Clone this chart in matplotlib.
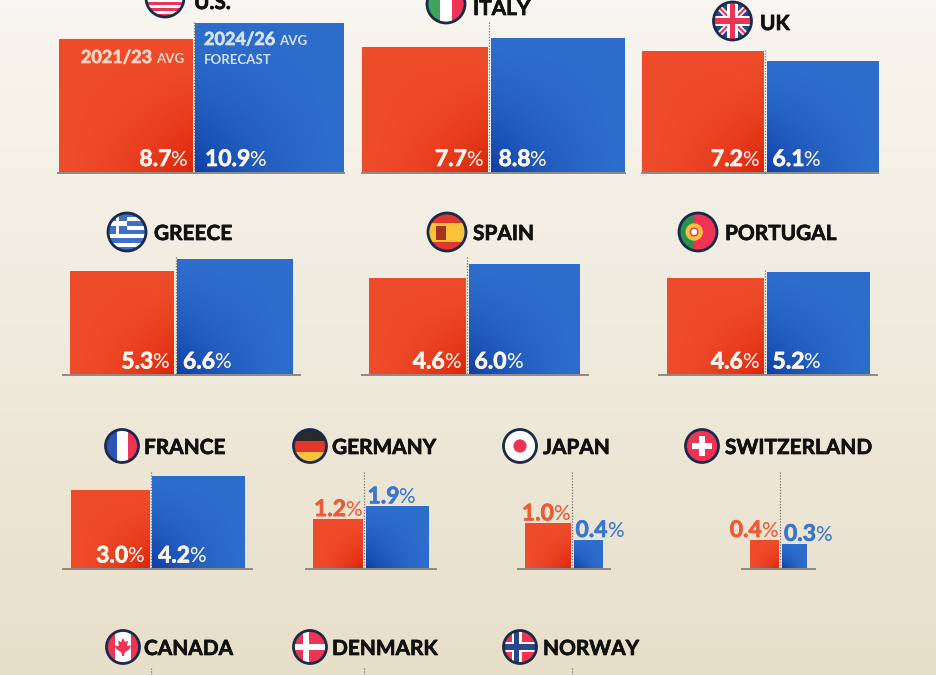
import numpy as np
import matplotlib
matplotlib.use("Agg")
import matplotlib.pyplot as plt
import matplotlib.patheffects as pe
from matplotlib.patches import Circle, Rectangle, Polygon

plt.rcParams['font.family'] = ['Lato', 'DejaVu Sans']

# values
countries = ["U.S.", "ITALY", "UK", "GREECE", "SPAIN", "PORTUGAL",
             "FRANCE", "GERMANY", "JAPAN", "SWITZERLAND"]
avg_2021_23 = [8.7, 7.7, 7.2, 5.3, 4.6, 4.6, 3.0, 1.2, 1.0, 0.4]
avg_2024_26 = [10.9, 8.8, 6.1, 6.6, 6.0, 5.2, 4.2, 1.9, 0.4, 0.3]
cut_off_countries = ["CANADA", "DENMARK", "NORWAY"]

# layout in pixels
centers = [193.5, 489, 765, 175.5, 467, 765, 150.5, 364, 572, 780]
baselines = [172, 172, 172, 374.5, 374.5, 374.5, 568.5, 568.5, 568.5, 568.5]
rule_left = [58, 362, 642, 63, 362, 659, 63, 306, 518, 742]
rule_right = [344, 625, 878, 300, 588, 877, 252, 436, 610, 815]
line_tops = [22, 22, 50, 257, 257, 270, 472, 472, 472, 472]
blue_pad = [10, 8, 6, 6, 6, 6, 6, 3.5, 3.5, 4]
flag_x = [165, 446, 732.5, 127, 447, 698, 122, 310, 520, 702]
flag_y = [-2, 4, 21, 232, 232, 232, 446, 446, 446, 446]
flag_r = [19, 19, 19, 19, 19, 19, 16.5, 16.5, 16.5, 16.5]
label_x = [194, 473, 760, 154, 473, 725, 144, 332, 543, 725]
label_y = [1, 7, 22, 232, 232, 232, 446, 446, 446, 446]
cut_flag_x = [123, 310, 520]
cut_label_x = [144, 332, 543]
cut_line_x = [150.5, 363.5, 571.5]

SIDE_SCALE = 45.1   # bars are squares, area follows the value
GAP = 1.5
NAVY = "#1B2A4A"
FLAG_RED = "#EE3452"
INK = "#111111"
RED_TEXT = "#EE5A35"
BLUE_TEXT = "#3A76CF"
WHITE = "#FBF6EC"

fig = plt.figure(figsize=(9.36, 6.75), dpi=100)
ax = fig.add_axes([0, 0, 1, 1])
ax.axis("off")
ax.set_xlim(0, 936)
ax.set_ylim(675, 0)
ax.set_autoscale_on(False)
renderer = fig.canvas.get_renderer()


def hex_rgb(c):
    return np.array(matplotlib.colors.to_rgb(c))


def corner_shade(base, dark, corner, n=60, power=1.6):
    """底色向一个角加深"""
    u = np.linspace(0, 1, n)[None, :, None]
    v = np.linspace(0, 1, n)[:, None, None]
    if corner == "left":
        u = 1 - u
    w = (u * v) ** power
    return (1 - w) * hex_rgb(base)[None, None, :] + w * hex_rgb(dark)[None, None, :]


# background
top_bg = hex_rgb("#F8F6F0")
bottom_bg = hex_rgb("#E8DFCA")
t_bg = np.linspace(0, 1, 100)[:, None, None]
ax.imshow((1 - t_bg) * top_bg + t_bg * bottom_bg, extent=(0, 936, 675, 0), aspect="auto", zorder=0)


def gradient_bar(left, bottom, side, base, dark, corner):
    bar = ax.bar(left, side, width=side, bottom=bottom - side, align="edge", color=base, zorder=2)[0]
    im = ax.imshow(corner_shade(base, dark, corner), extent=(left, left + side, bottom, bottom - side),
                   aspect="auto", zorder=2.1, interpolation="bilinear")
    im.set_clip_path(bar)


def add_text(x, y, s, color, size, weight="bold", ha="left", stroke=True):
    t = ax.text(x, y, s, color=color, fontsize=size, fontweight=weight, ha=ha, va="baseline", zorder=4)
    if stroke:
        t.set_path_effects([pe.withStroke(linewidth=0.5, foreground=color)])
    return t


def text_width(t):
    return t.get_window_extent(renderer).width


def value_left(x, y, value, color, size=16.5):
    t = add_text(x, y, f"{value:.1f}", color, size)
    add_text(x + text_width(t) - 1, y, "%", color, size - 1.5, weight="normal", stroke=False)


def value_right(x, y, value, color, size=16.5):
    t = add_text(x, y, "%", color, size - 1.5, weight="normal", ha="right", stroke=False)
    add_text(x - text_width(t) + 1, y, f"{value:.1f}", color, size, ha="right")


def flag_base(cx, cy, r, color):
    clip = Circle((cx, cy), r, transform=ax.transData)
    ax.add_patch(Rectangle((cx - r, cy - r), 2 * r, 2 * r, color=color, zorder=5, clip_path=clip))
    return clip


def flag_rect(clip, x, y, w, h, color):
    ax.add_patch(Rectangle((x, y), w, h, color=color, lw=0, zorder=5.2, clip_path=clip))


def flag_line(clip, xs, ys, color, lw):
    ax.plot(xs, ys, color=color, lw=lw, zorder=5.1, clip_path=clip, solid_capstyle="butt")


def draw_flag(name, cx, cy, r):
    """简化的圆形国旗"""
    left, top = cx - r, cy - r
    d = 2 * r
    if name == "U.S.":
        c = flag_base(cx, cy, r, "white")
        for i in range(0, 13, 2):
            flag_rect(c, left, top + i * d / 13, d, d / 13, FLAG_RED)
        flag_rect(c, left, top, d * 0.5, d * 0.5, NAVY)
    elif name == "ITALY":
        c = flag_base(cx, cy, r, "white")
        flag_rect(c, left, top, d / 3, d, "#3FA35A")
        flag_rect(c, left + 2 * d / 3, top, d / 3, d, FLAG_RED)
    elif name == "UK":
        c = flag_base(cx, cy, r, "#27478F")
        for s in (1, -1):
            flag_line(c, [left, left + d], [cy - s * r, cy + s * r], "white", 4)
            flag_line(c, [left, left + d], [cy - s * r, cy + s * r], FLAG_RED, 1.5)
        flag_rect(c, cx - r * 0.28, top, r * 0.56, d, "white")
        flag_rect(c, left, cy - r * 0.28, d, r * 0.56, "white")
        flag_rect(c, cx - r * 0.15, top, r * 0.3, d, FLAG_RED)
        flag_rect(c, left, cy - r * 0.15, d, r * 0.3, FLAG_RED)
    elif name == "GREECE":
        c = flag_base(cx, cy, r, "white")
        for i in range(0, 9, 2):
            flag_rect(c, left, top + i * d / 9, d, d / 9, "#3C71C4")
        flag_rect(c, left, top, d * 0.5, d * 5 / 9, "#3C71C4")
        flag_rect(c, left + d * 0.2, top, d * 0.1, d * 5 / 9, "white")
        flag_rect(c, left, top + d * 2 / 9, d * 0.5, d / 9, "white")
    elif name == "SPAIN":
        c = flag_base(cx, cy, r, "#F6C33B")
        flag_rect(c, left, top, d, d * 0.25, "#E0362C")
        flag_rect(c, left, top + d * 0.75, d, d * 0.25, "#E0362C")
        flag_rect(c, cx - r * 0.6, cy - r * 0.3, r * 0.55, r * 0.7, "#A8321F")
    elif name == "PORTUGAL":
        c = flag_base(cx, cy, r, FLAG_RED)
        flag_rect(c, left, top, d * 0.4, d, "#2F8F4E")
        ax.add_patch(Circle((left + d * 0.4, cy), r * 0.42, fc="#F6C33B", ec="#F6C33B", zorder=5.3))
        ax.add_patch(Circle((left + d * 0.4, cy), r * 0.2, fc="white", ec=FLAG_RED, lw=1, zorder=5.4))
    elif name == "FRANCE":
        c = flag_base(cx, cy, r, "white")
        flag_rect(c, left, top, d / 3, d, "#2B55B0")
        flag_rect(c, left + 2 * d / 3, top, d / 3, d, FLAG_RED)
    elif name == "GERMANY":
        c = flag_base(cx, cy, r, "#E0362C")
        flag_rect(c, left, top, d, d / 3, "#2A2A2A")
        flag_rect(c, left, top + 2 * d / 3, d, d / 3, "#F6C33B")
    elif name == "JAPAN":
        flag_base(cx, cy, r, "white")
        ax.add_patch(Circle((cx, cy), r * 0.4, fc=FLAG_RED, ec="none", zorder=5.3))
    elif name == "SWITZERLAND":
        c = flag_base(cx, cy, r, FLAG_RED)
        flag_rect(c, cx - r * 0.18, cy - r * 0.58, r * 0.36, r * 1.16, "white")
        flag_rect(c, cx - r * 0.58, cy - r * 0.18, r * 1.16, r * 0.36, "white")
    elif name == "CANADA":
        c = flag_base(cx, cy, r, "white")
        flag_rect(c, left, top, d * 0.25, d, FLAG_RED)
        flag_rect(c, left + d * 0.75, top, d * 0.25, d, FLAG_RED)
        leaf = np.array([[0, -.55], [.12, -.3], [.3, -.38], [.24, -.05], [.5, -.1], [.4, .12],
                         [.1, .34], [.05, .55], [-.05, .55], [-.1, .34], [-.4, .12], [-.5, -.1],
                         [-.24, -.05], [-.3, -.38], [-.12, -.3]])
        ax.add_patch(Polygon(leaf * r + [cx, cy], fc=FLAG_RED, ec="none", zorder=5.3))
    elif name == "DENMARK":
        c = flag_base(cx, cy, r, FLAG_RED)
        flag_rect(c, cx - r * 0.4, top, r * 0.34, d, "white")
        flag_rect(c, left, cy - r * 0.17, d, r * 0.34, "white")
    elif name == "NORWAY":
        c = flag_base(cx, cy, r, FLAG_RED)
        flag_rect(c, cx - r * 0.5, top, r * 0.6, d, "white")
        flag_rect(c, left, cy - r * 0.3, d, r * 0.6, "white")
        flag_rect(c, cx - r * 0.36, top, r * 0.32, d, "#27478F")
        flag_rect(c, left, cy - r * 0.16, d, r * 0.32, "#27478F")
    ax.add_patch(Circle((cx, cy), r, fill=False, ec=NAVY, lw=2, zorder=6))


def country_label(x, y, name):
    t = ax.text(x, y, name, fontsize=15, fontweight="bold", color=INK, ha="left",
                va="center_baseline", zorder=6)
    t.set_path_effects([pe.withStroke(linewidth=0.5, foreground=INK)])


for i, name in enumerate(countries):
    cx, base = centers[i], baselines[i]
    v_old, v_new = avg_2021_23[i], avg_2024_26[i]
    s_old = SIDE_SCALE * np.sqrt(v_old)
    s_new = SIDE_SCALE * np.sqrt(v_new)

    gradient_bar(cx - GAP - s_old, base, s_old, "#EF4C2C", "#DE2409", "right")
    gradient_bar(cx + GAP, base, s_new, "#2D6DCC", "#0F3FA6", "left")

    ax.plot([rule_left[i], rule_right[i]], [base + 0.5, base + 0.5], color="#8C8A84", lw=1.4, zorder=3)
    ax.plot([cx, cx], [line_tops[i], base], color="#77746C", lw=0.9, ls=(0, (1, 1.3)), zorder=1.5)

    if i < 7:
        value_right(cx - GAP - 5, base - 6, v_old, WHITE)
        value_left(cx + GAP + blue_pad[i], base - 6, v_new, WHITE)
    else:
        value_right(cx - 2.5, base - s_old - 3, v_old, RED_TEXT)
        value_left(cx + blue_pad[i], base - s_new - 3, v_new, BLUE_TEXT)

    draw_flag(name, flag_x[i], flag_y[i], flag_r[i])
    country_label(label_x[i], label_y[i], name)

for i, name in enumerate(cut_off_countries):
    draw_flag(name, cut_flag_x[i], 647, 16.5)
    country_label(cut_label_x[i], 647, name)
    ax.plot([cut_line_x[i]] * 2, [668, 675], color="#77746C", lw=0.9, ls=(0, (1, 1.3)), zorder=1.5)

# key inside the U.S. bars
avg = add_text(184, 63, "AVG", "#F6D5C4", 9.5, ha="right", stroke=False)
add_text(184 - text_width(avg) - 4, 63, "2021/23", "#F6D5C4", 13, ha="right")
yr = add_text(204, 45, "2024/26", "#D5E0F0", 13)
add_text(204 + text_width(yr) + 4, 45, "AVG", "#D5E0F0", 9.5, stroke=False)
add_text(204, 64, "FORECAST", "#D5E0F0", 9.5, stroke=False)

fig.savefig("out.png", dpi=100)
